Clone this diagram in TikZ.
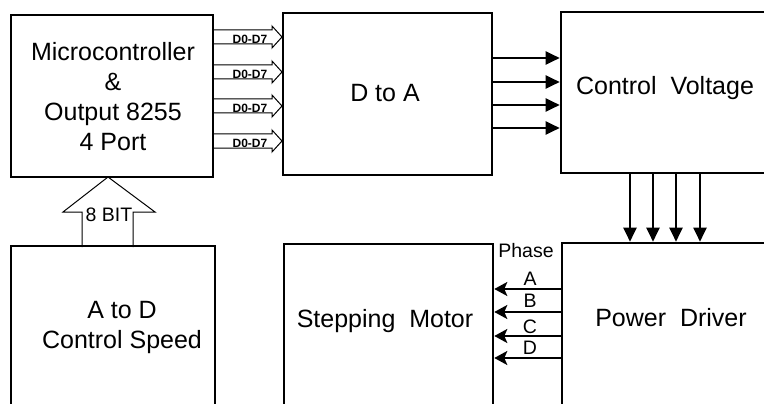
\documentclass[tikz,border=0pt]{standalone}
\usepackage{fontspec}
\setmainfont{Liberation Sans}
\usetikzlibrary{arrows.meta}
\begin{document}
\begin{tikzpicture}[x=1pt,y=-1pt,
  blk/.style={draw, line width=2.6pt, inner sep=0pt},
  big/.style={font=\fontsize{25}{30}\selectfont, align=center, inner sep=0pt},
  thinarr/.style={line width=2pt, -{Triangle[length=14pt,width=13pt]}},
  phasearr/.style={line width=2pt, -{Stealth[length=13pt,width=14pt,inset=3pt]}},
  hollow/.style={draw, line width=1pt, line join=miter},
  small/.style={font=\bfseries\fontsize{12}{12}\selectfont, inner sep=0pt},
  lbl/.style={font=\fontsize{19.5}{20}\selectfont, inner sep=0pt}]
\useasboundingbox (0,0) rectangle (764,404);
\clip (0,0) rectangle (764,404);
% boxes
\node[blk, minimum width=202pt, minimum height=162pt] (mc) at (112,96) {};
\node[blk, minimum width=209pt, minimum height=162pt] (da) at (387.5,94) {};
\node[blk, minimum width=219pt, minimum height=161pt] (cv) at (670.5,92.5) {};
\node[blk, minimum width=204pt, minimum height=184pt] (ad) at (113,338) {};
\node[blk, minimum width=209pt, minimum height=186pt] (sm) at (388.5,337) {};
\node[blk, minimum width=218pt, minimum height=187pt] (pd) at (671,336.5) {};
% texts
\node[big] (mct) at (113,97) {Microcontroller\\\&\\Output 8255\\4 Port};
\node[big] (dat) at (385,93) {D to A};
\node[big] (cvt) at (665,88) {Control\ \ Voltage};
\node[big] (adt) at (122,327) {A to D\\Control Speed};
\node[big] (smt) at (385,321) {Stepping\ \ Motor};
\node[big] (pdt) at (671,318) {Power\ \ Driver};
% D0-D7 block arrows
\foreach \y [count=\i] in {37,72,106,141} {
  \draw[hollow] (213,\y-7) -- (272,\y-7) -- (272,\y-11) -- (282,\y) -- (272,\y+11) -- (272,\y+7) -- (213,\y+7);
  \node[small] (dl\i) at (250,\y+2.5) {D0-D7};
}
% 8 BIT block arrow
\draw[hollow] (82,247) -- (82,212) -- (63,212) -- (108,177) -- (155,212) -- (133,212) -- (133,247);
\node[lbl] (bit) at (109,215) {8 BIT};
% D to A -> Control Voltage
\foreach \y in {58,82,105,128}
  \draw[thinarr] (da.east |- 0,\y) -- (cv.west |- 0,\y);
% Control Voltage -> Power Driver
\foreach \x in {630,653,676,700}
  \draw[thinarr] (cv.south -| \x,0) -- (pd.north -| \x,0);
% Power Driver -> Stepping Motor
\foreach \y in {289,312,336,358}
  \draw[phasearr] (pd.west |- 0,\y) -- (sm.east |- 0,\y);
\node[lbl] (ph) at (526,251) {Phase};
\node[lbl] (pa) at (530,279) {A};
\node[lbl] (pb) at (530,301) {B};
\node[lbl] (pc) at (530,327) {C};
\node[lbl] (pdd) at (530,348) {D};
\end{tikzpicture}
\end{document}
